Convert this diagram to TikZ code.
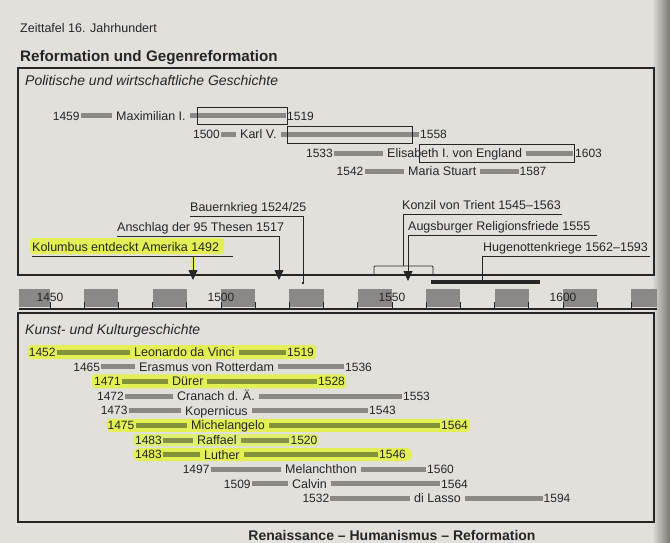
\documentclass[tikz,border=0pt]{standalone}
\usepackage{fontspec}
\setmainfont{Liberation Sans}
\usetikzlibrary{arrows.meta}

\definecolor{papier}{RGB}{225,224,219}
\definecolor{schatten}{RGB}{120,119,114}
\definecolor{tinte}{RGB}{38,38,38}
\definecolor{balkengrau}{RGB}{138,137,134}
\definecolor{leuchtgelb}{RGB}{226,240,86}
\definecolor{blassgelb}{RGB}{224,238,112}
\definecolor{oliv}{RGB}{132,146,58}
\definecolor{blassoliv}{RGB}{134,146,72}

\tikzset{
  jahr/.style={font=\fontsize{12}{14}\selectfont, text=tinte, inner sep=1pt, text height=8.6pt, text depth=0pt},
  person/.style={font=\fontsize{12.5}{14}\selectfont, text=tinte, fill=papier, inner xsep=4pt, inner ysep=0pt, text height=8.8pt, text depth=0pt, anchor=west},
  balken/.style={draw=balkengrau, line width=5pt},
  rahmen/.style={draw=tinte, line width=1.3pt},
  amt/.style={draw=tinte, line width=0.9pt},
  strich/.style={draw=tinte, line width=0.8pt},
  pfeil/.style={strich, -{Triangle[width=9pt,length=10pt]}},
  ereignis/.style={font=\fontsize{12.5}{14}\selectfont, text=tinte, inner sep=0pt, anchor=base west},
  markierung/.style={fill=leuchtgelb, rounded corners=3pt},
}

\begin{document}
\begin{tikzpicture}[x=1pt,y=-1pt]
            \clip (0,0) rectangle (670,543);
            \fill[papier] (0,0) rectangle (670,543);
            \shade[left color=papier, right color=schatten] (652,0) rectangle (670,543);

            % Kopf
            \node (zeittafel) [ereignis] at (20,32.5) {Zeittafel 16. Jahrhundert};
            \node (thema) [ereignis, font=\bfseries\fontsize{15.2}{18}\selectfont] at (20,61.5) {Reformation und Gegenreformation};

            % Politische und wirtschaftliche Geschichte
            \draw[rahmen] (18,68) rectangle (654,275);
            \node (politik) [ereignis, font=\itshape\fontsize{14}{16}\selectfont] at (25,85) {Politische und wirtschaftliche Geschichte};

            \draw[balken] (80.8,116) -- (286,116);
            \node (max-von) [jahr,left] at (80.8,116) {1459};
            \node (max-name) [person] at (112,116) {Maximilian I.};
            \node (max-bis) [jahr,right] at (286,116) {1519};
            \draw[amt] (197,107.5) rectangle (287,124.5);

            \draw[balken] (221,134.5) -- (419,134.5);
            \node (karl-von) [jahr,left] at (221,134.5) {1500};
            \node (karl-name) [person] at (236,134.5) {Karl V.};
            \node (karl-bis) [jahr,right] at (419,134.5) {1558};
            \draw[amt] (287,126) rectangle (412.5,143);

            \draw[balken] (334,153) -- (573,153);
            \node (elisabeth-von) [jahr,left] at (334,153) {1533};
            \node (elisabeth-name) [person] at (383,153) {Elisabeth I. von England};
            \node (elisabeth-bis) [jahr,right] at (574,153) {1603};
            \draw[amt] (419,144.5) rectangle (574,162);

            \draw[balken] (364.6,171.5) -- (518.5,171.5);
            \node (maria-von) [jahr,left] at (364.6,171.5) {1542};
            \node (maria-name) [person] at (404,171.5) {Maria Stuart};
            \node (maria-bis) [jahr,right] at (518.5,171.5) {1587};

            % Ereignisse
            \node (bauernkrieg) [ereignis] at (190,211.5) {Bauernkrieg 1524/25};
            \coordinate (bauern-a) at (190,216);
            \coordinate (bauern-knick) at (303,216);
            \node (bauern-ende) [fill=tinte, inner sep=1.3pt] at (303,283) {};
            \draw[strich] (bauern-a) -- (bauern-knick) -- (bauern-ende);

            \node (thesen) [ereignis] at (117,231.5) {Anschlag der 95 Thesen 1517};
            \coordinate (thesen-a) at (117,236);
            \coordinate (thesen-knick) at (279,236);
            \coordinate (thesen-spitze) at (279,280);
            \draw[strich] (thesen-a) -- (thesen-knick);
            \draw[pfeil] (thesen-knick) -- (thesen-spitze);

            \fill[markierung] (30,238) rectangle (224,254);
            \draw[leuchtgelb, line width=4pt] (193,257) -- (193,270);
            \node (kolumbus) [ereignis] at (32,251) {Kolumbus entdeckt Amerika 1492};
            \coordinate (kolumbus-a) at (32,256);
            \coordinate (kolumbus-b) at (233,256);
            \coordinate (kolumbus-knick) at (193,256);
            \coordinate (kolumbus-spitze) at (193,280);
            \draw[strich] (kolumbus-a) -- (kolumbus-b);
            \draw[pfeil] (kolumbus-knick) -- (kolumbus-spitze);

            \node (konzil) [ereignis] at (402,209.5) {Konzil von Trient 1545–1563};
            \coordinate (konzil-knick) at (403,214);
            \coordinate (konzil-b) at (562,214);
            \coordinate (konzil-klammer) at (403,266);
            \draw[strich] (konzil-b) -- (konzil-knick) -- (konzil-klammer);
            \draw[strich, rounded corners=1pt] (374,275) -- (374,266) -- (433,266) -- (433,275);

            \node (augsburg) [ereignis] at (408,230.5) {Augsburger Religionsfriede 1555};
            \coordinate (augsburg-knick) at (408,235);
            \coordinate (augsburg-b) at (597,235);
            \coordinate (augsburg-spitze) at (408,281);
            \draw[strich] (augsburg-b) -- (augsburg-knick);
            \draw[pfeil] (augsburg-knick) -- (augsburg-spitze);

            \node (hugenotten) [ereignis] at (483,251.5) {Hugenottenkriege 1562–1593};
            \coordinate (hugenotten-knick) at (482,256);
            \coordinate (hugenotten-b) at (650,256);
            \coordinate (hugenotten-fuss) at (482,282);
            \draw[strich] (hugenotten-b) -- (hugenotten-knick) -- (hugenotten-fuss);
            \draw[tinte, line width=4pt] (431,282) -- (540,282);

            % Zeitachse
            \fill[balkengrau] (19,289) rectangle (50,307);
            \fill[balkengrau] (84.2,289) rectangle (118.4,307);
            \fill[balkengrau] (152.6,289) rectangle (186.8,307);
            \fill[balkengrau] (221,289) rectangle (255.2,307);
            \fill[balkengrau] (289.4,289) rectangle (323.6,307);
            \fill[balkengrau] (357.8,289) rectangle (392,307);
            \fill[balkengrau] (426.2,289) rectangle (460.4,307);
            \fill[balkengrau] (494.6,289) rectangle (528.8,307);
            \fill[balkengrau] (563,289) rectangle (597.2,307);
            \fill[balkengrau] (631.4,289) rectangle (657,307);
            \foreach \i in {0,...,17}
                \draw[strich] ({50+34.2*\i},302) -- ({50+34.2*\i},309);
            \draw[tinte, line width=2pt] (19,309) -- (657,309);
            \node (achse-1450) [jahr] at (50,297.5) {1450};
            \node (achse-1500) [jahr] at (221,297.5) {1500};
            \node (achse-1550) [jahr] at (392,297.5) {1550};
            \node (achse-1600) [jahr] at (563,297.5) {1600};

            % Kunst- und Kulturgeschichte
            \draw[rahmen] (18,313) rectangle (654,522);
            \node (kunst) [ereignis, font=\itshape\fontsize{14}{16}\selectfont] at (25,334) {Kunst- und Kulturgeschichte};

            \fill[markierung] (28,345) rectangle (316,359);
            \fill[markierung] (92,374.3) rectangle (346,388.3);
            \fill[markierung] (107,418.8) rectangle (470,431.8);
            \fill[markierung, fill=blassgelb] (133,434) rectangle (318,446);
            \fill[markierung, rounded corners=6pt] (133,448.1) rectangle (412,461.1);

            \draw[balken, draw=oliv] (56.8,352) -- (286,352);
            \node (leonardo-von) [jahr,left] at (56.8,352) {1452};
            \node (leonardo-name) [person, fill=leuchtgelb] at (130,352) {Leonardo da Vinci};
            \node (leonardo-bis) [jahr,right] at (286,352) {1519};

            \draw[balken] (101.3,366.7) -- (344,366.7);
            \node (erasmus-von) [jahr,left] at (101.3,366.7) {1465};
            \node (erasmus-name) [person] at (135,366.7) {Erasmus von Rotterdam};
            \node (erasmus-bis) [jahr,right] at (344,366.7) {1536};

            \draw[balken, draw=oliv] (122,381.3) -- (317,381.3);
            \node (duerer-von) [jahr,left] at (122,381.3) {1471};
            \node (duerer-name) [person, fill=leuchtgelb] at (168,381.3) {Dürer};
            \node (duerer-bis) [jahr,right] at (317,381.3) {1528};

            \draw[balken] (125,396) -- (402,396);
            \node (cranach-von) [jahr,left] at (125,396) {1472};
            \node (cranach-name) [person] at (173,396) {Cranach d. Ä.};
            \node (cranach-bis) [jahr,right] at (402,396) {1553};

            \draw[balken] (128.7,410.6) -- (368,410.6);
            \node (kopernikus-von) [jahr,left] at (128.7,410.6) {1473};
            \node (kopernikus-name) [person] at (181,410.6) {Kopernicus};
            \node (kopernikus-bis) [jahr,right] at (368,410.6) {1543};

            \draw[balken, draw=oliv] (135.5,425.3) -- (440,425.3);
            \node (michelangelo-von) [jahr,left] at (135.5,425.3) {1475};
            \node (michelangelo-name) [person, fill=leuchtgelb] at (187,425.3) {Michelangelo};
            \node (michelangelo-bis) [jahr,right] at (440,425.3) {1564};

            \draw[balken, draw=blassoliv] (163,440) -- (289.4,440);
            \node (raffael-von) [jahr,left] at (163,440) {1483};
            \node (raffael-name) [person, fill=blassgelb] at (193,440) {Raffael};
            \node (raffael-bis) [jahr,right] at (289.4,440) {1520};

            \draw[balken, draw=oliv] (163,454.6) -- (378,454.6);
            \node (luther-von) [jahr,left] at (163,454.6) {1483};
            \node (luther-name) [person, fill=leuchtgelb] at (200,454.6) {Luther};
            \node (luther-bis) [jahr,right] at (378,454.6) {1546};

            \draw[balken] (210.7,469.2) -- (426,469.2);
            \node (melanchthon-von) [jahr,left] at (210.7,469.2) {1497};
            \node (melanchthon-name) [person] at (281,469.2) {Melanchthon};
            \node (melanchthon-bis) [jahr,right] at (426,469.2) {1560};

            \draw[balken] (251.8,483.9) -- (440,483.9);
            \node (calvin-von) [jahr,left] at (251.8,483.9) {1509};
            \node (calvin-name) [person] at (288,483.9) {Calvin};
            \node (calvin-bis) [jahr,right] at (440,483.9) {1564};

            \draw[balken] (330.4,498.5) -- (542.5,498.5);
            \node (lasso-von) [jahr,left] at (330.4,498.5) {1532};
            \node (lasso-name) [person] at (410,498.5) {di Lasso};
            \node (lasso-bis) [jahr,right] at (542.5,498.5) {1594};

            \node (epoche) [anchor=base, inner sep=0pt, text=tinte, font=\bfseries\fontsize{14}{16}\selectfont] at (392,540.5) {Renaissance – Humanismus – Reformation};

        \end{tikzpicture}
\end{document}
